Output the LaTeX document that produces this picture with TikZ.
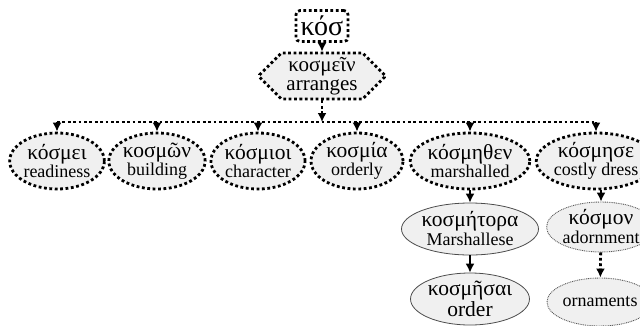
\documentclass[tikz,border=0pt]{standalone}
\usepackage{fontspec}
\setmainfont{Liberation Serif}
\usetikzlibrary{arrows.meta,shapes.geometric,shapes.misc}
\newcommand\engl[1]{{\fontsize{18}{18}\selectfont #1}}
\tikzset{
  bigdots/.style={line width=2.8pt, dash pattern=on 2.8pt off 2.6pt},
  finedots/.style={line width=0.9pt, dash pattern=on 0.9pt off 0.9pt, draw=gray!70!black},
  lvl/.style={ellipse, fill=gray!12, draw=black, bigdots, inner sep=0pt,
    minimum width=92pt, minimum height=56pt, align=center,
    font=\fontsize{21.5}{18}\selectfont},
  solidell/.style={ellipse, fill=gray!12, draw=gray!60!black, line width=0.8pt,
    inner sep=0pt, minimum width=100pt, minimum height=52pt, align=center,
    font=\fontsize{21.5}{19}\selectfont},
  fineell/.style={ellipse, fill=gray!12, finedots, inner sep=0pt,
    minimum width=84pt, minimum height=50pt, align=center,
    font=\fontsize{21.5}{19}\selectfont},
  arr/.style={-{Latex[length=9pt,width=9pt]}},
  solidarr/.style={arr, line width=1.6pt},
}
\begin{document}
\begin{tikzpicture}[x=1pt,y=-1pt]
\useasboundingbox (0,0) rectangle (640,325);
\node[rounded corners=4pt, draw, bigdots, minimum width=52pt, minimum height=31pt,
  inner sep=0pt, font=\fontsize{28}{28}\selectfont] (top) at (322,26) {κόσ};
\node[chamfered rectangle, chamfered rectangle xsep=20pt, fill=gray!12, draw, bigdots,
  minimum width=125pt, minimum height=46pt, inner sep=0pt, align=center,
  font=\fontsize{21}{19}\selectfont] (hex) at (322,76) {κοσμεῖν\\arranges};
\coordinate (j) at (322,122);
\node[lvl] (n1) at (57,161) {κόσμει\\\engl{readiness}};
\node[lvl] (n2) at (157,161) {κοσμῶν\\\engl{building}};
\node[lvl] (n3) at (258,161) {κόσμιοι\\\engl{character}};
\node[lvl] (n4) at (357,161) {κοσμία\\\engl{orderly}};
\node[lvl] (n5) at (470,161) {κόσμηθεν\\\engl{marshalled}};
\node[lvl] (n6) at (596,161) {κόσμησε\\\engl{costly dress}};
\node[solidell] (m1) at (470,229) {κοσμήτορα\\\engl{Marshallese}};
\node[solidell] (m2) at (470,299) {κοσμῆσαι\\order};
\node[fineell] (k1) at (601,227) {κόσμον\\\engl{adornment}};
\node[fineell, minimum width=82pt, minimum height=48pt] (k2) at (600,302) {\engl{ornaments}};
\draw[solidarr] (top) -- (hex);
\draw[bigdots] (n1 |- j) -- (n6 |- j);
\draw[bigdots, arr] (hex) -- (j);
\foreach \n in {n1,n2,n3,n4,n5,n6}
  \draw[bigdots, arr] (\n |- j) -- (\n.north);
\draw[solidarr] (n5) -- (m1);
\draw[solidarr] (m1) -- (m2);
\draw[solidarr] (n6.south -| k1) -- (k1);
\draw[bigdots, arr] (k1) -- (k2);
\end{tikzpicture}
\end{document}
